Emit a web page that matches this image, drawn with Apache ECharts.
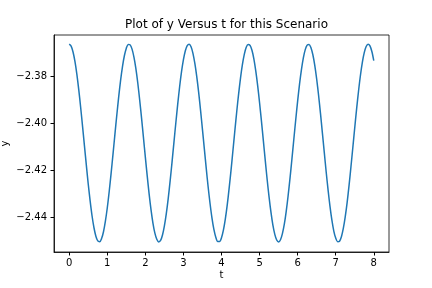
<!DOCTYPE html>
<html>
<head>
<meta charset="utf-8">
<script src="https://cdn.jsdelivr.net/npm/echarts@6/dist/echarts.min.js"></script>
<style>html,body{margin:0;padding:0;background:#fff}#c{width:432px;height:288px}</style>
</head>
<body>
<div id="c"></div>
<script>
var titleText = 'Plot of y Versus t for this Scenario';
var xName = 't';
var yName = 'y';
var xTicks = [0, 1, 2, 3, 4, 5, 6, 7, 8];
var yTicks = [-2.44, -2.42, -2.40, -2.38];
var tValues = [
  0.00,0.05,0.10,0.15,0.20,0.25,0.30,0.35,0.40,0.45,0.50,0.55,0.60,0.65,0.70,0.75,0.80,0.85,0.90,0.95,
  1.00,1.05,1.10,1.15,1.20,1.25,1.30,1.35,1.40,1.45,1.50,1.55,1.60,1.65,1.70,1.75,1.80,1.85,1.90,1.95,
  2.00,2.05,2.10,2.15,2.20,2.25,2.30,2.35,2.40,2.45,2.50,2.55,2.60,2.65,2.70,2.75,2.80,2.85,2.90,2.95,
  3.00,3.05,3.10,3.15,3.20,3.25,3.30,3.35,3.40,3.45,3.50,3.55,3.60,3.65,3.70,3.75,3.80,3.85,3.90,3.95,
  4.00,4.05,4.10,4.15,4.20,4.25,4.30,4.35,4.40,4.45,4.50,4.55,4.60,4.65,4.70,4.75,4.80,4.85,4.90,4.95,
  5.00,5.05,5.10,5.15,5.20,5.25,5.30,5.35,5.40,5.45,5.50,5.55,5.60,5.65,5.70,5.75,5.80,5.85,5.90,5.95,
  6.00,6.05,6.10,6.15,6.20,6.25,6.30,6.35,6.40,6.45,6.50,6.55,6.60,6.65,6.70,6.75,6.80,6.85,6.90,6.95,
  7.00,7.05,7.10,7.15,7.20,7.25,7.30,7.35,7.40,7.45,7.50,7.55,7.60,7.65,7.70,7.75,7.80,7.85,7.90,7.95,
  8.00];
var yValues = [
  -2.3663,-2.3671,-2.3696,-2.3736,-2.3790,-2.3856,-2.3931,-2.4012,-2.4095,-2.4178,
  -2.4258,-2.4330,-2.4393,-2.4443,-2.4479,-2.4499,-2.4502,-2.4489,-2.4460,-2.4415,
  -2.4358,-2.4289,-2.4212,-2.4130,-2.4046,-2.3964,-2.3886,-2.3816,-2.3757,-2.3711,
  -2.3680,-2.3664,-2.3666,-2.3684,-2.3718,-2.3766,-2.3827,-2.3899,-2.3977,-2.4060,
  -2.4144,-2.4225,-2.4301,-2.4368,-2.4424,-2.4466,-2.4492,-2.4503,-2.4497,-2.4474,
  -2.4435,-2.4383,-2.4319,-2.4245,-2.4165,-2.4081,-2.3998,-2.3918,-2.3844,-2.3780,
  -2.3729,-2.3691,-2.3669,-2.3663,-2.3674,-2.3702,-2.3745,-2.3801,-2.3868,-2.3944,
  -2.4026,-2.4109,-2.4192,-2.4271,-2.4341,-2.4402,-2.4450,-2.4483,-2.4501,-2.4501,
  -2.4485,-2.4453,-2.4406,-2.4347,-2.4276,-2.4199,-2.4116,-2.4032,-2.3950,-2.3874,
  -2.3806,-2.3749,-2.3705,-2.3676,-2.3664,-2.3668,-2.3689,-2.3725,-2.3776,-2.3839,
  -2.3912,-2.3991,-2.4074,-2.4158,-2.4239,-2.4313,-2.4378,-2.4432,-2.4471,-2.4495,
  -2.4503,-2.4494,-2.4468,-2.4428,-2.4373,-2.4307,-2.4232,-2.4151,-2.4067,-2.3984,
  -2.3905,-2.3833,-2.3771,-2.3721,-2.3686,-2.3667,-2.3664,-2.3678,-2.3708,-2.3753,
  -2.3811,-2.3880,-2.3957,-2.4040,-2.4123,-2.4206,-2.4283,-2.4352,-2.4411,-2.4457,
  -2.4487,-2.4502,-2.4500,-2.4481,-2.4446,-2.4397,-2.4336,-2.4264,-2.4185,-2.4102,
  -2.4018,-2.3937,-2.3862,-2.3795,-2.3740,-2.3699,-2.3673,-2.3663,-2.3670,-2.3694,
  -2.3733];

var seriesData = tValues.map(function (t, i) { return [t, yValues[i]]; });
var font = 'DejaVu Sans';
var chart = echarts.init(document.getElementById('c'), null, {renderer: 'canvas'});
chart.setOption({
  animation: false,
  backgroundColor: '#ffffff',
  title: {
    text: titleText, left: 221.5, top: 14, textAlign: 'center',
    textStyle: {fontFamily: font, fontSize: 12, fontWeight: 'normal', color: '#000'}
  },
  grid: {left: 54, right: 43, top: 35, bottom: 36, show: true, borderColor: '#000', borderWidth: 0.8,
    backgroundColor: 'transparent', containLabel: false, outerBoundsMode: 'none'},
  xAxis: {
    type: 'value', min: -0.4, max: 8.4, position: 'bottom',
    name: xName, nameLocation: 'middle', nameGap: 18.5, nameMoveOverlap: false,
    nameTextStyle: {fontFamily: font, fontSize: 10, color: '#000'},
    axisLine: {show: true, onZero: false, lineStyle: {color: '#000', width: 0.8}},
    splitLine: {show: false},
    axisTick: {show: true, inside: false, length: 3.5, lineStyle: {color: '#000', width: 1}, customValues: xTicks},
    axisLabel: {fontFamily: font, fontSize: 10, color: '#000', margin: 6, customValues: xTicks,
      formatter: function (v) { return String(Math.round(v)); }}
  },
  yAxis: {
    type: 'value', min: -2.4546, max: -2.3624, position: 'left',
    name: yName, nameLocation: 'middle', nameGap: 44, nameRotate: 90, nameMoveOverlap: false,
    nameTextStyle: {fontFamily: font, fontSize: 10, color: '#000'},
    axisLine: {show: true, onZero: false, lineStyle: {color: '#000', width: 0.8}},
    splitLine: {show: false},
    axisTick: {show: true, inside: false, length: 3.5, lineStyle: {color: '#000', width: 1}, customValues: yTicks},
    axisLabel: {fontFamily: font, fontSize: 10, color: '#000', margin: 7, customValues: yTicks,
      formatter: function (v) { return v.toFixed(2).replace('-', '\u2212'); }}
  },
  series: [{
    type: 'line', data: seriesData, showSymbol: false, smooth: 0.3,
    lineStyle: {color: '#1f77b4', width: 1.5}, itemStyle: {color: '#1f77b4'}
  }]
});
</script>
</body>
</html>
